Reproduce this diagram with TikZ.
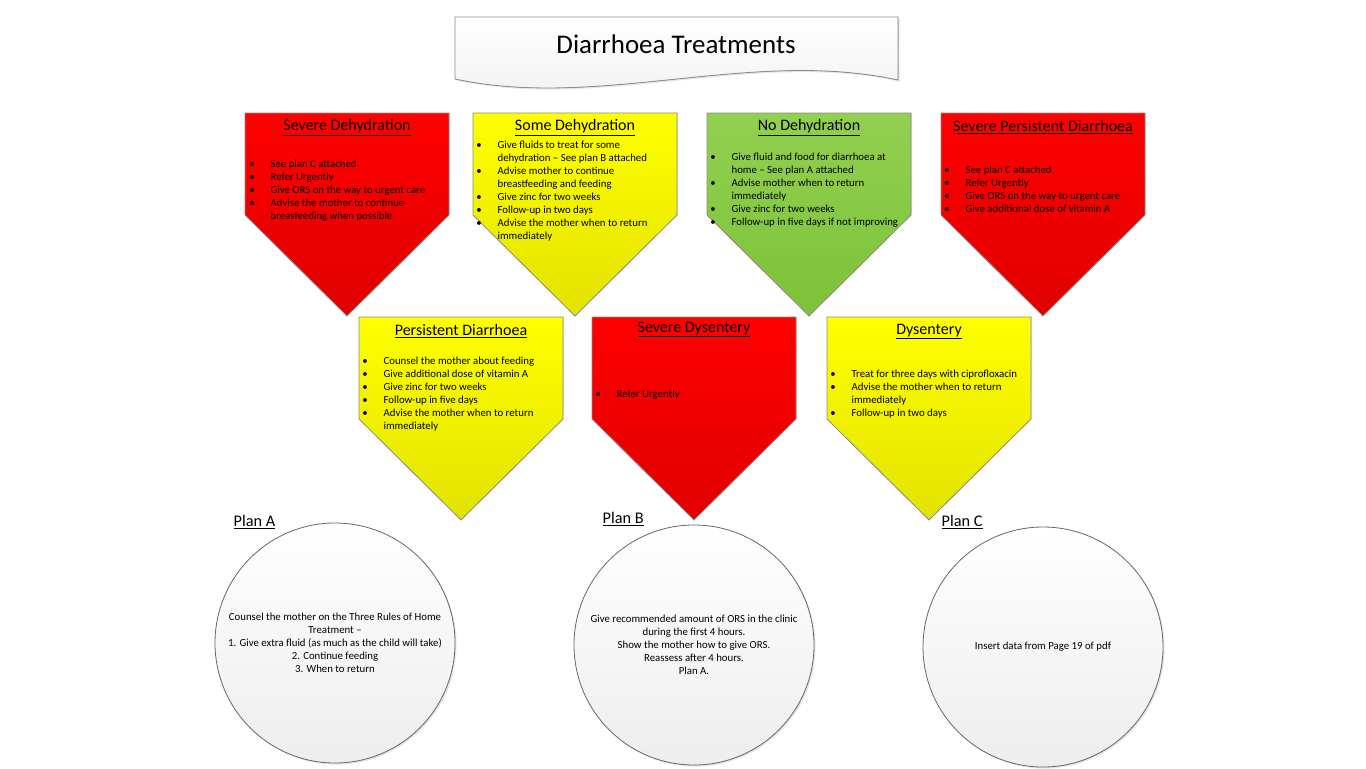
\documentclass[tikz,border=0pt]{standalone}
\usepackage{fontspec}
\setmainfont{Carlito}
\usetikzlibrary{shadows}

\definecolor{redtop}{HTML}{FF0000}
\definecolor{redbot}{HTML}{E00000}
\definecolor{yeltop}{HTML}{FFFF00}
\definecolor{yelbot}{HTML}{E2E200}
\definecolor{grntop}{HTML}{92D050}
\definecolor{grnbot}{HTML}{7CC238}

\newcommand{\bitem}{\makebox[16pt][l]{\textbullet}}
\newcommand{\bcont}{\hspace*{16pt}}

\begin{document}
\begin{tikzpicture}[x=0.75pt, y=-0.75pt,
  panel/.style={draw=black!45, line width=0.6pt},
  redpanel/.style={panel, top color=redtop, bottom color=redbot},
  yelpanel/.style={panel, top color=yeltop, bottom color=yelbot},
  grnpanel/.style={panel, top color=grntop, bottom color=grnbot},
  head/.style={font=\fontsize{12}{14}\selectfont},
  items/.style={anchor=north west, align=left, inner sep=0pt, font=\fontsize{8.1}{9.75}\selectfont},
  plan/.style={circle, draw=black!60, line width=0.6pt, minimum size=180pt, inner sep=0pt,
    top color=white, bottom color=black!7, align=center, font=\fontsize{8.1}{9.75}\selectfont,
    drop shadow={shadow xshift=1.2pt, shadow yshift=-1.2pt, opacity=0.2}},
  planlabel/.style={anchor=west, font=\fontsize{12.2}{14}\selectfont}]

  \useasboundingbox (0,0) rectangle (1366,768);

  % Title banner
  \filldraw[panel, top color=white, bottom color=black!6,
    drop shadow={shadow xshift=1.2pt, shadow yshift=-1.2pt, opacity=0.2}]
    (455,17) -- (898,17) -- (898,80) .. controls (750,48) and (600,110) .. (455,79) -- cycle;
  \node[font=\fontsize{20.2}{24}\selectfont] (title) at (676,44) {Diarrhoea Treatments};

  % Severe dehydration
  \begin{scope}[shift={(245,113)}]
  \filldraw[redpanel] (0,0) -- (204,0) -- (204,102) -- (102,203) -- (0,102) -- cycle;
  \node[head] (sevdehyd) at (102,14.5) {\underline{Severe Dehydration}};
  \node[items] (sevdehydlist) at (4,47) {\bitem See plan C attached\\ \bitem Refer Urgently\\
    \bitem Give ORS on the way to urgent care\\ \bitem Advise the mother to continue\\
    \bcont breasfeeding when possible};
  \end{scope}

  % Some dehydration
  \begin{scope}[shift={(473,113)}]
  \filldraw[yelpanel] (0,0) -- (204,0) -- (204,102) -- (102,203) -- (0,102) -- cycle;
  \node[head] (somedehyd) at (102,14.5) {\underline{Some Dehydration}};
  \node[items] (somedehydlist) at (3,28) {\bitem Give fluids to treat for some\\
    \bcont dehydration -- See plan B attached\\ \bitem Advise mother to continue\\
    \bcont breastfeeding and feeding\\ \bitem Give zinc for two weeks\\
    \bitem Follow-up in two days\\ \bitem Advise the mother when to return\\ \bcont immediately};
  \end{scope}

  % No dehydration
  \begin{scope}[shift={(707,113)}]
  \filldraw[grnpanel] (0,0) -- (204,0) -- (204,102) -- (102,203) -- (0,102) -- cycle;
  \node[head] (nodehyd) at (102,14.5) {\underline{No Dehydration}};
  \node[items] (nodehydlist) at (3,40) {\bitem Give fluid and food for diarrhoea at\\
    \bcont home -- See plan A attached\\ \bitem Advise mother when to return\\
    \bcont immediately\\ \bitem Give zinc for two weeks\\
    \bitem Follow-up in five days if not improving};
  \end{scope}

  % Severe persistent diarrhoea
  \begin{scope}[shift={(941,113)}]
  \filldraw[redpanel] (0,0) -- (204,0) -- (204,102) -- (102,203) -- (0,102) -- cycle;
  \node[head] (sevpers) at (102,14.5) {\underline{Severe Persistent Diarrhoea}};
  \node[items] (sevperslist) at (3,53) {\bitem See plan C attached\\ \bitem Refer Urgently\\
    \bitem Give ORS on the way to urgent care\\ \bitem Give additional dose of vitamin A};
  \end{scope}

  % Persistent diarrhoea
  \begin{scope}[shift={(359,317)}]
  \filldraw[yelpanel] (0,0) -- (204,0) -- (204,102) -- (102,203) -- (0,102) -- cycle;
  \node[head] (pers) at (102,14.5) {\underline{Persistent Diarrhoea}};
  \node[items] (perslist) at (3,40) {\bitem Counsel the mother about feeding\\
    \bitem Give additional dose of vitamin A\\ \bitem Give zinc for two weeks\\
    \bitem Follow-up in five days\\ \bitem Advise the mother when to return\\ \bcont immediately};
  \end{scope}

  % Severe dysentery
  \begin{scope}[shift={(592,317)}]
  \filldraw[redpanel] (0,0) -- (204,0) -- (204,102) -- (102,203) -- (0,102) -- cycle;
  \node[head] (sevdys) at (102,12.5) {\underline{Severe Dysentery}};
  \node[items] (sevdyslist) at (3,73) {\bitem Refer Urgently};
  \end{scope}

  % Dysentery
  \begin{scope}[shift={(827,317)}]
  \filldraw[yelpanel] (0,0) -- (204,0) -- (204,102) -- (102,203) -- (0,102) -- cycle;
  \node[head] (dys) at (102,14.5) {\underline{Dysentery}};
  \node[items] (dyslist) at (3,53) {\bitem Treat for three days with ciprofloxacin\\
    \bitem Advise the mother when to return\\ \bcont immediately\\ \bitem Follow-up in two days};
  \end{scope}

  % Plans
  \node[plan] (plana) at (335,643) {Counsel the mother on the Three Rules of Home\\ Treatment --\\
    1. Give extra fluid (as much as the child will take)\\ 2. Continue feeding\\ 3. When to return};
  \node[plan] (planb) at (694,645) {Give recommended amount of ORS in the clinic\\
    during the first 4 hours.\\ Show the mother how to give ORS.\\ Reassess after 4 hours.\\ Plan A.};
  \node[plan] (planc) at (1043,647) {Insert data from Page 19 of pdf};
  \node[planlabel] (planalabel) at (229,522) {\underline{Plan A}};
  \node[planlabel] (planblabel) at (598,519) {\underline{Plan B}};
  \node[planlabel] (planclabel) at (937,522) {\underline{Plan C}};
\end{tikzpicture}
\end{document}
